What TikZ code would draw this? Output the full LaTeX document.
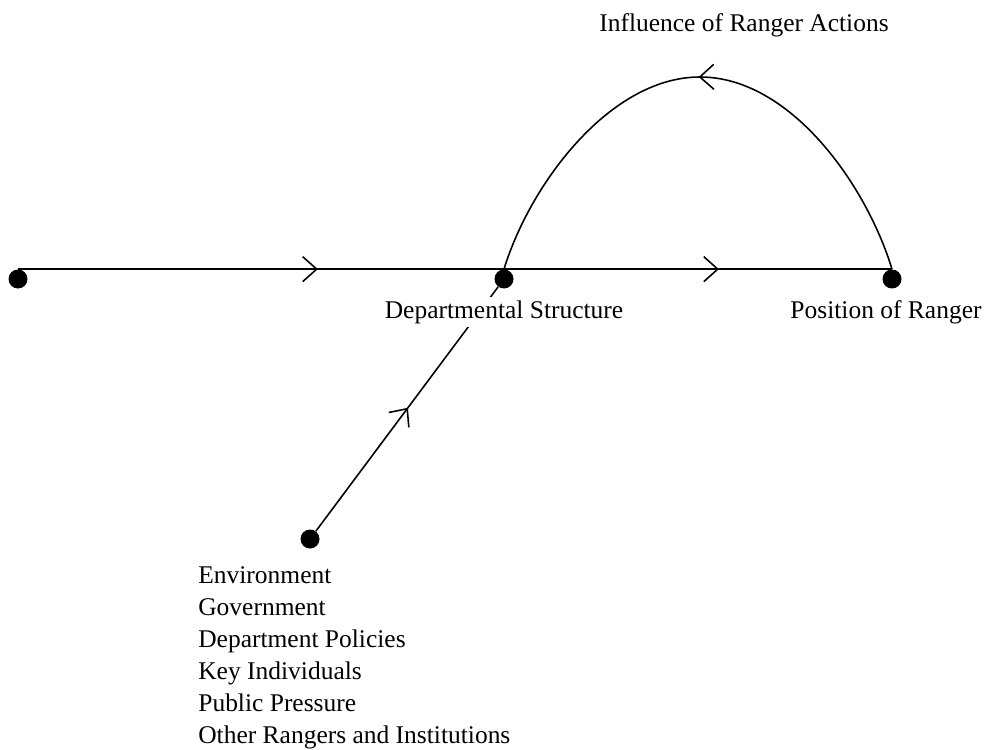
\documentclass[tikz,border=0pt]{standalone}
\usepackage{fontspec}
\setmainfont{Liberation Serif}
\usetikzlibrary{arrows.meta,decorations.markings}
\tikzset{
  rdot/.style={circle, fill=black, inner sep=0pt, minimum size=0.38cm},
  midarrow/.style={postaction={decorate}, decoration={markings,
    mark=at position #1 with {\arrow{Straight Barb[length=0.28cm, width=0.5cm, line width=0.9pt]}}}},
  lbl/.style={font=\fontsize{14.5}{18.2}\selectfont, inner sep=0pt}
}

\begin{document}
\begin{tikzpicture}[x=0.02cm, y=-0.02cm]
  \useasboundingbox (0,0) rectangle (997,750);

  % Points
  \node[rdot] (outer) at (18,279) {};
  \node[rdot] (dept) at (504,279) {};
  \node[rdot] (pos) at (892,279) {};
  \node[rdot] (forces) at (310,539) {};
  \coordinate (apex) at (700,77);

  % Arrows
  \draw[line width=1.5pt, midarrow=0.617] (outer.north) -- (dept.north);
  \draw[line width=1.5pt, midarrow=0.554] (dept.north) -- (pos.north);
  \draw[line width=0.9pt, midarrow=0.5] (pos.north) .. controls (866,184) and (790,77) .. (apex)
    .. controls (610,77) and (530,184) .. (dept.north);
  \draw[line width=0.9pt, midarrow=0.505] (forces) -- (dept);

  % Labels
  \node[lbl, anchor=base, fill=white, inner sep=2pt] (deptlbl) at (504,318) {Departmental Structure};
  \node[lbl, anchor=base] (poslbl) at (886,318) {Position of Ranger};
  \node[lbl, anchor=base] (inflbl) at (744,32) {Influence of Ranger Actions};
  \node[lbl, anchor=north west, align=left] (forceslbl) at (198,566) {Environment\\Government\\Department Policies\\Key Individuals\\Public Pressure\\Other Rangers and Institutions};
\end{tikzpicture}
\end{document}
